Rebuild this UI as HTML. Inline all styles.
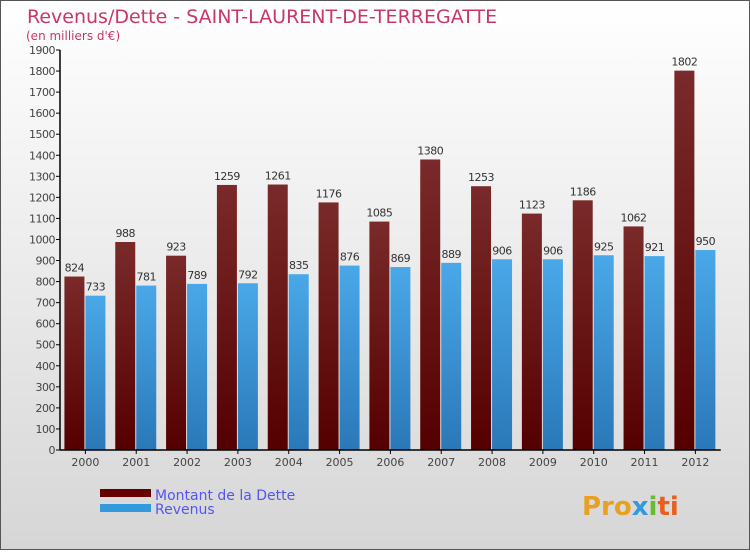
<!DOCTYPE html>
<html><head><meta charset="utf-8"><style>
body{margin:0}
#c{width:750px;height:550px;position:relative;font-family:"DejaVu Sans","Liberation Sans",sans-serif}
</style></head><body>
<div id="c">
<svg id="s" width="750" height="550" xmlns="http://www.w3.org/2000/svg">
<defs>
<linearGradient id="bg" x1="0" y1="0" x2="0" y2="1"><stop offset="0" stop-color="#ffffff"/><stop offset="1" stop-color="#d6d6d6"/></linearGradient>
<linearGradient id="gd" x1="0" y1="0" x2="0" y2="1"><stop offset="0" stop-color="#7a2a2a"/><stop offset="1" stop-color="#550000"/></linearGradient>
<linearGradient id="gr" x1="0" y1="0" x2="0" y2="1"><stop offset="0" stop-color="#4aa8e8"/><stop offset="1" stop-color="#2a78b8"/></linearGradient>
</defs>
<rect x="0.5" y="0.5" width="749" height="549" fill="url(#bg)" stroke="#555"/>
<text x="27" y="23" font-size="19" fill="#c8366a">Revenus/Dette - SAINT-LAURENT-DE-TERREGATTE</text>
<text x="26" y="40" font-size="12" fill="#c8366a">(en milliers d'€)</text>
<g id="g"></g>
<rect x="100" y="489" width="51" height="8" fill="#660000"/>
<rect x="100" y="504" width="51" height="8" fill="#3399dd"/>
<text x="155" y="500" font-size="14" fill="#5555ee">Montant de la Dette</text>
<text x="155" y="514" font-size="14" fill="#5555ee">Revenus</text>
<text x="582" y="515" font-size="26" font-weight="bold" fill="#e8a020">Pro<tspan fill="#3399dd">x</tspan><tspan fill="#66bb33">i</tspan><tspan fill="#e86020">ti</tspan></text>
</svg>
</div>
<script>
const categories=["2000","2001","2002","2003","2004","2005","2006","2007","2008","2009","2010","2011","2012"];
const dette=[824,988,923,1259,1261,1176,1085,1380,1253,1123,1186,1062,1802];
const revenus=[733,781,789,792,835,876,869,889,906,906,925,921,950];
const ticks=[0,100,200,300,400,500,600,700,800,900,1000,1100,1200,1300,1400,1500,1600,1700,1800,1900];
const NS="http://www.w3.org/2000/svg";
const g=document.getElementById('g');
const x0=60,step=50.83,y0=450,ymax=1900,ph=400;
const y=v=>y0-v/ymax*ph;
function mk(t,a){const e=document.createElementNS(NS,t);for(const k in a)e.setAttribute(k,a[k]);g.appendChild(e);return e;}
ticks.forEach(v=>{
 const l=mk('line',{x1:x0-4,x2:x0,y1:y(v),y2:y(v),stroke:'#000'});
 
 
 const t=mk('text',{x:x0-5,y:y(v)+4,'font-size':11,'text-anchor':'end',fill:'#444','letter-spacing':'-0.5'});
 t.textContent=v;
 
 
});
categories.forEach((c,i)=>{
 const cx=x0+step*(i+0.5);
 const b1=mk('rect',{x:cx-21,y:y(dette[i]),width:20,height:y0-y(dette[i]),fill:'url(#gd)'});
 
 
 const b2=mk('rect',{x:cx,y:y(revenus[i]),width:20,height:y0-y(revenus[i]),fill:'url(#gr)'});
 
 
 const t1=mk('text',{x:cx-11,y:y(dette[i])-5,'font-size':11,'text-anchor':'middle',fill:'#333','letter-spacing':'-0.5'});
 t1.textContent=dette[i];
 
 
 const t2=mk('text',{x:cx+10,y:y(revenus[i])-5,'font-size':11,'text-anchor':'middle',fill:'#333','letter-spacing':'-0.5'});
 t2.textContent=revenus[i];
 
 
 const tk=mk('line',{x1:cx,x2:cx,y1:y0,y2:y0+4,stroke:'#000'});
 
 
 const xl=mk('text',{x:cx,y:y0+16,'font-size':11,'text-anchor':'middle',fill:'#444'});
 xl.textContent=c;
 
 
});
const ax=mk('line',{x1:x0,x2:x0,y1:y(1900),y2:y0,stroke:'#000','stroke-width':1.5});


const xa=mk('line',{x1:x0,x2:x0+step*13,y1:y0,y2:y0,stroke:'#000','stroke-width':1.5});


</script>
</body></html>
